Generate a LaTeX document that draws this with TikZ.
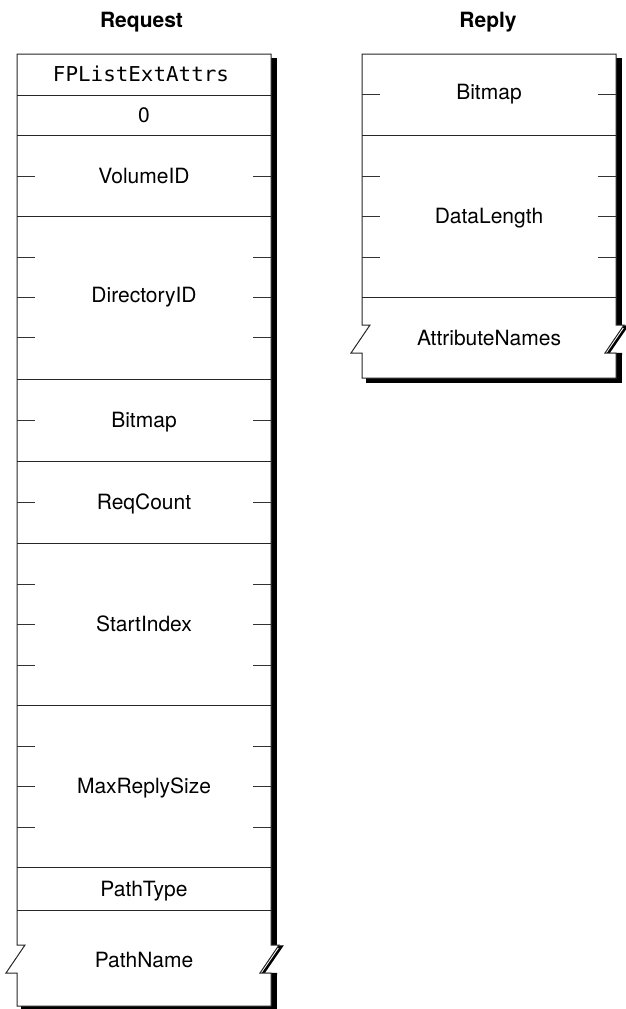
\documentclass[tikz,border=0pt]{standalone}
\usepackage{fontspec}
\usepackage{graphicx}
\setmainfont{TeX Gyre Heros}
\newfontfamily\monof{DejaVu Sans Mono}
\begin{document}
\begin{tikzpicture}[x=1pt,y=-1pt]
\useasboundingbox (0,0) rectangle (626,1009);
\tikzset{
  lbl/.style={font=\fontsize{21}{24}\selectfont, inner sep=0pt, anchor=base},
  mlbl/.style={font=\fontsize{20.5}{24}\selectfont\monof, inner sep=0pt, anchor=base},
  ttl/.style={font=\fontsize{21}{24}\selectfont\bfseries, inner sep=0pt, anchor=base},
  outline/.style={draw=black!85, fill=white, line width=1pt},
  shadow/.style={fill=black},
  shadowline/.style={draw=black, line width=2.5pt, line join=miter},
  sep/.style={draw=black!85, line width=1pt},
  tickmark/.style={draw=black!80, line width=1pt}
}
\def\reqpath{(17,54) -- (271,54) -- (271,945) -- (279,945) -- (260,973) -- (271,973) -- (271,1006) -- (17,1006) -- (17,973) -- (6,973) -- (25,945) -- (17,945) -- cycle}
\def\reppath{(362,54) -- (616,54) -- (616,325) -- (624,325) -- (605,353) -- (616,353) -- (616,378) -- (362,378) -- (362,353) -- (351,353) -- (370,325) -- (362,325) -- cycle}
% titles
\node[ttl] (reqtitle) at (141.5,27.3) {Request};
\node[ttl] (reptitle) at (488,27.3) {Reply};
% request box: shadow
\fill[shadow] (271,58) rectangle (277,946);
\fill[shadow] (271,973) rectangle (277,1011);
\fill[shadow] (21,1006) rectangle (277,1011);
\draw[shadowline] (271,946.5) -- (281.5,946.5) -- (262.5,974.2) -- (277,974.2);
\path[outline] \reqpath;
\foreach \y in {95,135,216,379,461,543,705,867,910} \draw[sep] (17,\y) -- (271,\y);
\foreach \y in {176,257,297,337,420,502,584,624,665,746,786,827} {
  \draw[tickmark] (17,\y) -- (35,\y);
  \draw[tickmark] (253,\y) -- (271,\y);
}
\node[mlbl] (cmd) at (141,81.7) {\resizebox{176pt}{\height}{FPListExtAttrs}};
\node[lbl] (zero) at (144,122) {0};
\node[lbl] (volid) at (144,183.5) {VolumeID};
\node[lbl] (dirid) at (144,302.7) {DirectoryID};
\node[lbl] (bitmapq) at (144,427.5) {Bitmap};
\node[lbl] (reqcount) at (144,509.5) {ReqCount};
\node[lbl] (startidx) at (144,631.5) {StartIndex};
\node[lbl] (maxreply) at (144,793.5) {MaxReplySize};
\node[lbl] (pathtype) at (144,896) {PathType};
\node[lbl] (pathname) at (144,967.3) {PathName};
% reply box: shadow
\fill[shadow] (616,58) rectangle (622,326);
\fill[shadow] (616,353) rectangle (622,383);
\fill[shadow] (366,378) rectangle (622,383);
\draw[shadowline] (616,326.5) -- (626.5,326.5) -- (607.5,354.2) -- (622,354.2);
\path[outline] \reppath;
\foreach \y in {135,297} \draw[sep] (362,\y) -- (616,\y);
\foreach \y in {94,176,216,257} {
  \draw[tickmark] (362,\y) -- (380,\y);
  \draw[tickmark] (598,\y) -- (616,\y);
}
\node[lbl] (bitmapr) at (489,99.5) {Bitmap};
\node[lbl] (datalen) at (489,223.5) {DataLength};
\node[lbl] (attrnames) at (489,345) {AttributeNames};
\end{tikzpicture}
\end{document}
